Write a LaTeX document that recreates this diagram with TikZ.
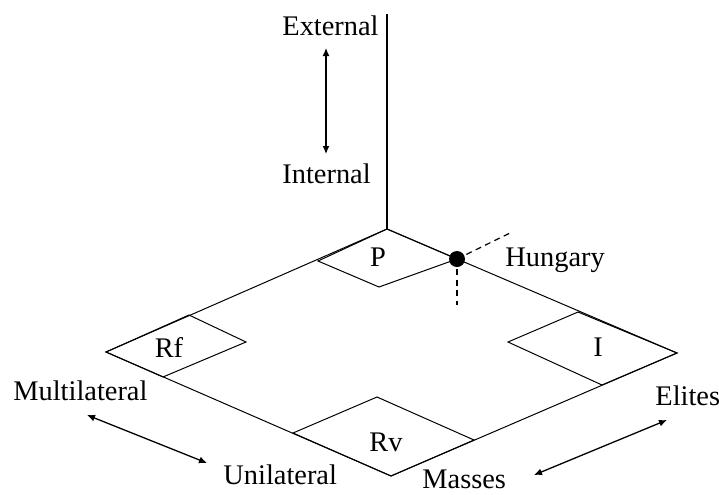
\documentclass[tikz,border=0pt]{standalone}
\usepackage{fontspec}
\setmainfont{Liberation Serif}
\usetikzlibrary{arrows.meta}

\begin{document}
\begin{tikzpicture}[x=0.5pt,y=-0.5pt,
  dimtext/.style={inner sep=0pt,font=\fontsize{14.2}{17}\selectfont},
  planeedge/.style={draw,line width=0.5pt},
  twoway/.style={{Latex[length=4pt,width=3.5pt]}-{Latex[length=4pt,width=3.5pt]},line width=0.65pt},
  hint/.style={draw,dash pattern=on 3pt off 2.2pt,line width=0.6pt}]
  \useasboundingbox (0,0) rectangle (719,494);
  %plane corners
  \coordinate (T) at (387,229);
  \coordinate (L) at (106,352);
  \coordinate (B) at (391,476);
  \coordinate (R) at (677,353);
  \coordinate (axtop) at (387,14);
  %axis
  \draw[line width=1pt] (axtop) -- (T);
  %plane
  \draw[planeedge] (T) -- (L) -- (B) -- (R) -- cycle;
  %corner cells
  \coordinate (hu) at (457,259);
  \draw[planeedge] (T) -- (318,261) -- (379,287) -- (hu) -- cycle;
  \draw[planeedge] (189,315) -- (L) -- (163,377) -- (246,342) -- cycle;
  \draw[planeedge] (578,312) -- (508,342) -- (602,385) -- (R) -- cycle;
  \draw[planeedge] (377,397) -- (293,433) -- (B) -- (474,440) -- cycle;
  \node[dimtext,anchor=base] (p) at (378,266) {P};
  \node[dimtext,anchor=base] (rf) at (169,357) {Rf};
  \node[dimtext,anchor=base] (i) at (598,356) {I};
  \node[dimtext,anchor=base] (rv) at (386,451) {Rv};
  %Hungary
  \coordinate (huup) at (510,233);
  \coordinate (hudown) at (457,305);
  \draw[hint] (hu) -- (huup);
  \draw[hint] (hu) -- (hudown);
  \fill (hu) circle[radius=4pt];
  \node[dimtext,anchor=base west] (hun) at (505,266) {Hungary};
  %dimensions
  \node[dimtext,anchor=base west] (ext) at (282,35) {External};
  \node[dimtext,anchor=base west] (int) at (282,183) {Internal};
  \node[dimtext,anchor=base west] (multi) at (13,400) {Multilateral};
  \node[dimtext,anchor=base west] (uni) at (223,484) {Unilateral};
  \node[dimtext,anchor=base west] (mas) at (422,488) {Masses};
  \node[dimtext,anchor=base west] (eli) at (655,405) {Elites};
  \coordinate (ei1) at (326,48);
  \coordinate (ei2) at (326,154);
  \coordinate (mu1) at (87,415);
  \coordinate (mu2) at (207,463);
  \coordinate (me1) at (534,475);
  \coordinate (me2) at (667,420);
  \draw[twoway] (ei1) -- (ei2);
  \draw[twoway] (mu1) -- (mu2);
  \draw[twoway] (me1) -- (me2);
\end{tikzpicture}
\end{document}
